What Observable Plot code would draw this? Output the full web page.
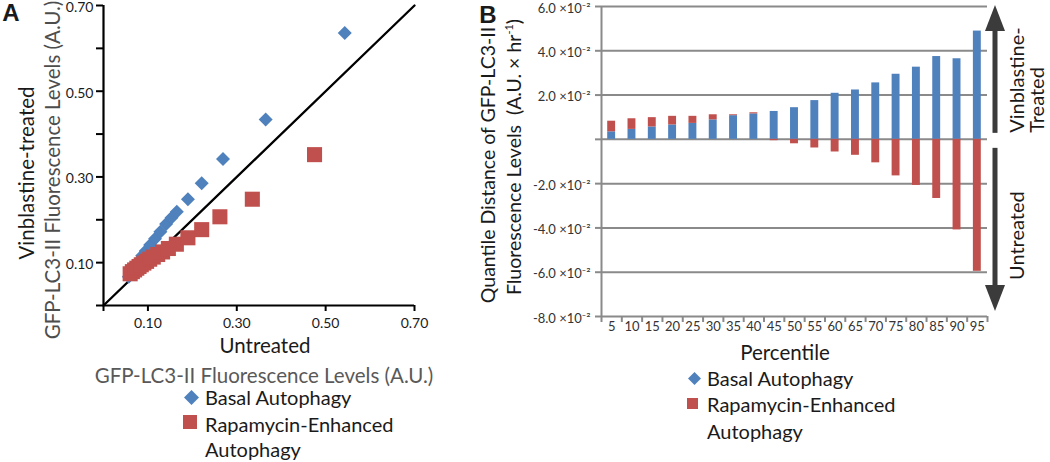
<!DOCTYPE html>
<html><head><meta charset="utf-8">
<script src="https://cdn.jsdelivr.net/npm/d3@7"></script>
<script src="https://cdn.jsdelivr.net/npm/@observablehq/plot@0.6"></script>
<style>
body{margin:0;background:#fff;}
#root{position:relative;width:1050px;height:462px;overflow:hidden;font-family:Lato,"Open Sans",sans-serif;color:#1a1a1a;}
.abs{position:absolute;white-space:nowrap;line-height:1;}
.c{transform:translate(-50%,-50%);}
.l{transform:translate(0,-50%);}
.rot{transform:translate(-50%,-50%) rotate(-90deg);}
</style></head><body><div id="root"></div>
<script>
// ---------- data ----------
const percentiles = [5,10,15,20,25,30,35,40,45,50,55,60,65,70,75,80,85,90,95];
const seriesNames = ["Basal Autophagy", "Rapamycin-Enhanced Autophagy"];
const seriesColors = ["#4F81BD", "#C0504D"];

// Panel A: quantile-quantile values (untreated vs vinblastine-treated)
const basalUntreated   = [0.057,0.061,0.065,0.069,0.074,0.080,0.087,0.095,0.105,0.116,0.128,0.141,0.153,0.165,0.190,0.221,0.269,0.365,0.543];
const basalVinblastine = [0.067,0.074,0.080,0.087,0.095,0.104,0.116,0.127,0.141,0.156,0.172,0.190,0.205,0.219,0.248,0.285,0.342,0.434,0.636];
const rapaUntreated    = [0.060,0.065,0.070,0.075,0.080,0.085,0.091,0.097,0.104,0.112,0.122,0.133,0.146,0.164,0.190,0.221,0.262,0.335,0.475];
const rapaVinblastine  = [0.074,0.079,0.083,0.087,0.091,0.095,0.099,0.103,0.108,0.113,0.119,0.125,0.133,0.143,0.158,0.177,0.207,0.248,0.352];
const scatterTicks   = [0, 0.1, 0.2, 0.3, 0.4, 0.5, 0.6, 0.7];
const scatterLabeled = [0.1, 0.3, 0.5, 0.7];

// Panel B: quantile distance per percentile
const basalDistance = [0.0034,0.0045,0.0056,0.0065,0.0072,0.0088,0.0107,0.0115,0.0126,0.0143,0.0175,0.0208,0.0223,0.0255,0.0294,0.0326,0.0374,0.0364,0.0489];
const rapaDistance  = [0.0048,0.0048,0.0042,0.0039,0.0032,0.0023,0.0004,0.0005,-0.0006,-0.0020,-0.0039,-0.0057,-0.0072,-0.0106,-0.0165,-0.0208,-0.0267,-0.0409,-0.0596];
const distanceTicks = [-0.08,-0.06,-0.04,-0.02,0,0.02,0.04,0.06];
const distanceTickLabels = ["-8.0 ×10⁻²","-6.0 ×10⁻²","-4.0 ×10⁻²","-2.0 ×10⁻²","","2.0 ×10⁻²","4.0 ×10⁻²","6.0 ×10⁻²"];

// ---------- panel A ----------
const root = document.getElementById("root");
const basalPts = percentiles.map((p, i) => ({p, x: basalUntreated[i], y: basalVinblastine[i]}));
const rapaPts  = percentiles.map((p, i) => ({p, x: rapaUntreated[i], y: rapaVinblastine[i]}));
const aDomain = d3.extent(scatterTicks);
const fmtA = d3.format(".2f");
const noText = () => "";

const chartA = Plot.plot({
  width: 470, height: 345,
  marginLeft: 103, marginRight: 56, marginTop: 5, marginBottom: 40,
  style: {fontFamily: "Lato, sans-serif", fontSize: "14px", color: "#1a1a1a", background: "transparent", overflow: "visible"},
  x: {domain: aDomain},
  y: {domain: aDomain},
  marks: [
    Plot.line(aDomain.map(v => [v, v]), {stroke: "#000", strokeWidth: 2.3}),
    Plot.dot(basalPts, {x: "x", y: "y", symbol: "diamond2", r: 6.3, fill: seriesColors[0]}),
    Plot.dot(rapaPts, {x: "x", y: "y", symbol: "square", r: 8.5, fill: seriesColors[1]}),
    Plot.ruleX([aDomain[0]], {stroke: "#000", strokeWidth: 2.2}),
    Plot.ruleY([aDomain[0]], {stroke: "#000", strokeWidth: 2.2}),
    Plot.axisX({ticks: [aDomain[0], ...scatterLabeled], tickFormat: d => scatterLabeled.includes(d) ? fmtA(d) : "",
      tickSize: 6, tickPadding: 7, stroke: "#000", strokeWidth: 2, label: null}),
    Plot.axisY({ticks: scatterTicks, tickFormat: noText, tickSize: 7, stroke: "#000", strokeWidth: 2, label: null}),
    Plot.axisY({ticks: scatterLabeled, tickFormat: fmtA, tickSize: 0, tickPadding: 10, dy: 2, label: null})
  ]
});
Object.assign(chartA.style, {position: "absolute", left: "0px", top: "0px"});
root.appendChild(chartA);

// ---------- panel B ----------
const half = (percentiles[1] - percentiles[0]) / 2;
const bounds = [percentiles[0] - half, ...percentiles.map(p => p + half)];
const distRows = [];
seriesNames.forEach((s, si) => {
  const vals = si === 0 ? basalDistance : rapaDistance;
  percentiles.forEach((p, i) => distRows.push({p, series: s, v: vals[i]}));
});
const bDomain = d3.extent(distanceTicks);
const gridGray = "#8a8a8a";

const chartB = Plot.plot({
  width: 580, height: 345,
  marginLeft: 131, marginRight: 63, marginTop: 6, marginBottom: 29,
  style: {fontFamily: "Lato, sans-serif", fontSize: "13px", color: "#333", background: "transparent", overflow: "visible"},
  x: {domain: [bounds[0], bounds[bounds.length - 1]]},
  y: {domain: bDomain},
  color: {domain: seriesNames, range: seriesColors},
  marks: [
    Plot.ruleY(distanceTicks, {stroke: gridGray, strokeWidth: 2}),
    Plot.rect(distRows, Plot.stackY({x1: d => d.p - half, x2: d => d.p + half, y: "v", fill: "series",
      insetLeft: 6.2, insetRight: 6.2})),
    Plot.ruleX([bounds[0]], {stroke: gridGray, strokeWidth: 2}),
    Plot.axisY({ticks: distanceTicks, tickFormat: noText, tickSize: 6, stroke: gridGray, strokeWidth: 2, label: null}),
    Plot.axisY({ticks: distanceTicks, tickFormat: d => distanceTickLabels[distanceTicks.indexOf(d)],
      tickSize: 0, tickPadding: 11, dy: 2, label: null}),
    Plot.axisX({ticks: bounds, tickFormat: noText, tickSize: 6, stroke: gridGray, strokeWidth: 2, label: null}),
    Plot.axisX({ticks: percentiles, tickSize: 0, tickPadding: 5, label: null, fontSize: 13})
  ]
});
Object.assign(chartB.style, {position: "absolute", left: "470px", top: "0px"});
root.appendChild(chartB);

// arrows + side annotations, positioned with panel B's own scales
const sx = chartB.scale("x"), sy = chartB.scale("y");
const y0 = sy.apply(0), yTop = sy.apply(bDomain[1]), yBot = sy.apply(bDomain[0]);
const ax = sx.apply(bounds[bounds.length - 1]) + 8;
const svgB = d3.select(chartB);
const ga = svgB.append("g").attr("fill", "#3b3b3b");
ga.append("rect").attr("x", ax - 2.5).attr("y", yTop + 20).attr("width", 5).attr("height", (y0 - 6) - (yTop + 20));
ga.append("path").attr("d", `M${ax},${yTop - 1}L${ax + 10},${yTop + 25}L${ax - 10},${yTop + 25}Z`);
ga.append("rect").attr("x", ax - 2.5).attr("y", y0 + 9).attr("width", 5).attr("height", (yBot - 30) - (y0 + 9));
ga.append("path").attr("d", `M${ax},${yBot - 5}L${ax + 10},${yBot - 31}L${ax - 10},${yBot - 31}Z`);
const gt = svgB.append("g").attr("font-family", "Lato, sans-serif").attr("font-size", 20).attr("fill", "#1a1a1a");
const vtext = (x, y, s) => gt.append("text").attr("transform", `translate(${x},${y}) rotate(-90)`)
  .attr("text-anchor", "start").attr("dy", "0.35em").text(s);
vtext(ax + 22, y0 - 6, "Vinblastine-");
vtext(ax + 42, y0 - 6, "Treated");
vtext(ax + 22, yBot - 36, "Untreated");

// ---------- HTML texts ----------
function addText(html, x, y, cls, style) {
  const d = document.createElement("div");
  d.className = "abs " + cls;
  d.style.left = x + "px"; d.style.top = y + "px";
  Object.assign(d.style, style || {});
  d.innerHTML = html;
  root.appendChild(d);
  return d;
}
const T = "20.5px";
addText("A", 11, 13, "c", {fontSize: "24px", fontWeight: "bold", fontFamily: "Liberation Sans, Arial, sans-serif"});
addText("B", 488, 15, "c", {fontSize: "24px", fontWeight: "bold", fontFamily: "Liberation Sans, Arial, sans-serif"});

addText("Vinblastine-treated", 26, 173, "rot", {fontSize: T, color: "#1a1a1a"});
addText("GFP-LC3-II Fluorescence Levels (A.U.)", 52, 170, "rot", {fontSize: T, color: "#4d4d4d"});
addText("Untreated", 265, 345, "c", {fontSize: T, color: "#1a1a1a"});
addText("GFP-LC3-II Fluorescence Levels (A.U.)", 264, 375, "c", {fontSize: T, color: "#595959"});

addText("Quantile Distance of GFP-LC3-II", 488, 165, "rot", {fontSize: "19.5px", color: "#1a1a1a"});
addText("Fluorescence Levels&nbsp; (A.U. × hr<sup style='font-size:11px'>-1</sup>)", 513, 157, "rot", {fontSize: "19.5px", color: "#1a1a1a"});
addText("Percentile", 785, 352, "c", {fontSize: T, color: "#1a1a1a"});

function swatch(kind, cx, cy, size, color) {
  const s = d3.create("svg").attr("width", size + 4).attr("height", size + 4)
    .style("position", "absolute").style("left", (cx - size / 2 - 2) + "px").style("top", (cy - size / 2 - 2) + "px");
  const c = size / 2 + 2, h = size / 2;
  if (kind === "diamond") s.append("path").attr("d", `M${c},${c - h}L${c + h},${c}L${c},${c + h}L${c - h},${c}Z`).attr("fill", color);
  else s.append("rect").attr("x", c - h).attr("y", c - h).attr("width", size).attr("height", size).attr("fill", color);
  root.appendChild(s.node());
}
const L = "20px";
// legend A
swatch("diamond", 191, 397, 15, seriesColors[0]);
addText("Basal Autophagy", 205, 397, "l", {fontSize: L});
swatch("square", 190, 422, 14, seriesColors[1]);
addText("Rapamycin-Enhanced", 205, 424, "l", {fontSize: L});
addText("Autophagy", 205, 449, "l", {fontSize: L});
// legend B
swatch("diamond", 694, 378, 13, seriesColors[0]);
addText("Basal Autophagy", 707, 378, "l", {fontSize: L});
swatch("square", 692, 403, 11, seriesColors[1]);
addText("Rapamycin-Enhanced", 707, 404, "l", {fontSize: L});
addText("Autophagy", 707, 431, "l", {fontSize: L});
</script></body></html>
